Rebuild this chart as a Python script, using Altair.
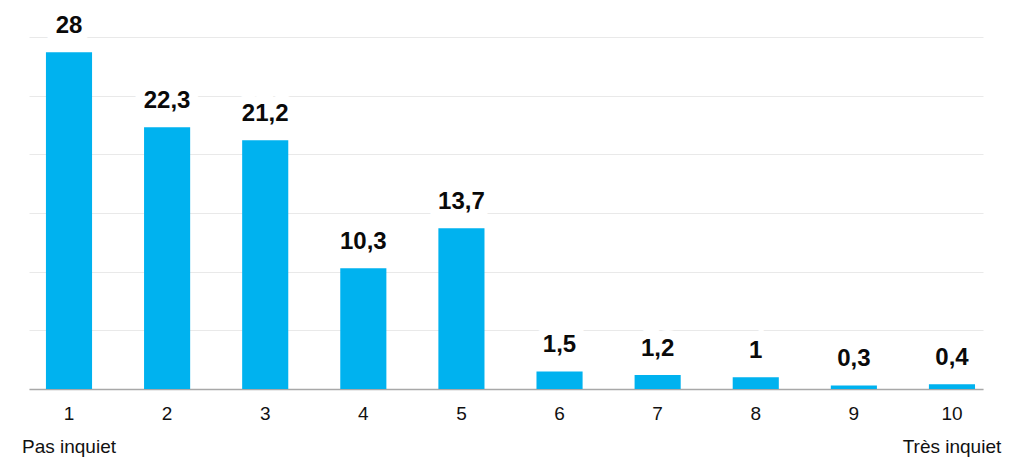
import altair as alt
import pandas as pd

categories = ["1", "2", "3", "4", "5", "6", "7", "8", "9", "10"]
bar_values = [28.7, 22.3, 21.2, 10.3, 13.7, 1.5, 1.2, 1.0, 0.3, 0.4]
value_labels = ["28", "22,3", "21,2", "10,3", "13,7", "1,5", "1,2", "1", "0,3", "0,4"]
low_label = "Pas inquiet"
high_label = "Très inquiet"

df = pd.DataFrame({"cat": categories, "value": bar_values, "label": value_labels})

FONT = "Liberation Sans"
BLUE = "#00B2EF"

label_expr = (
    f"datum.value == '1' ? ['1', '{low_label}'] : "
    f"(datum.value == '10' ? ['10', '{high_label}'] : datum.value)"
)

x = alt.X(
    "cat:N",
    sort=categories,
    scale=alt.Scale(paddingInner=0.53, paddingOuter=0.127, align=0.68),
    axis=alt.Axis(
        title=None,
        labelAngle=0,
        ticks=False,
        domain=True,
        domainColor="#a8a8a8",
        domainWidth=1.6,
        labelFont=FONT,
        labelFontSize=19,
        labelColor="#111111",
        labelPadding=15,
        labelLineHeight=33,
        labelExpr=label_expr,
        grid=False,
    ),
)
y = alt.Y(
    "value:Q",
    scale=alt.Scale(domain=[0, 30], nice=False),
    axis=alt.Axis(
        title=None,
        values=[0, 5, 10, 15, 20, 25, 30],
        labels=False,
        ticks=False,
        domain=False,
        grid=True,
        gridColor="#e9e9e9",
        gridWidth=1.2,
    ),
)

base = alt.Chart(df)
bars = base.mark_bar(color=BLUE).encode(x=x, y=y)
halo = base.mark_text(
    font=FONT, fontSize=24, fontWeight="bold", baseline="alphabetic", dy=-19,
    color="white", stroke="white", strokeWidth=18,
).encode(x=alt.X("cat:N", sort=categories), y="value:Q", text="label:N")
texts = base.mark_text(
    font=FONT, fontSize=24, fontWeight="bold", baseline="alphabetic", dy=-19,
    color="#0a0a0a",
).encode(x=alt.X("cat:N", sort=categories), y="value:Q", text="label:N")

chart = (
    alt.layer(bars, halo, texts)
    .properties(
        width=954,
        height=352,
        autosize=alt.AutoSizeParams(type="none"),
        padding={"left": 21, "top": 29, "right": 20, "bottom": 70},
        view=alt.ViewBackground(stroke="transparent", strokeOpacity=0, strokeWidth=0),
    )
    .configure_view(stroke="transparent", strokeOpacity=0, strokeWidth=0)
    .configure(background="white")
)

chart.save("out.html", embed_options={"renderer": "svg", "actions": False})
